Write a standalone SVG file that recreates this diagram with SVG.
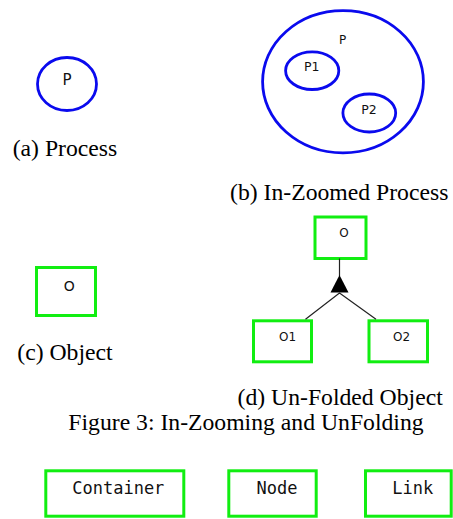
<svg xmlns="http://www.w3.org/2000/svg" width="453" height="519" viewBox="0 0 453 519">
<style>
.proc{fill:none;stroke:#0a0aee;stroke-width:2.8}
.obj{fill:none;stroke:#11ee11;stroke-width:3}
.lbl{font-family:"DejaVu Sans",sans-serif;fill:#111;text-anchor:middle}
.mono{font-family:"DejaVu Sans Mono",monospace;font-size:17px;fill:#111;text-anchor:middle}
.cap{font-family:"Liberation Serif","Times New Roman",serif;font-size:23.7px;fill:#000}
.conn{stroke:#222;stroke-width:1.2;fill:none}
</style>
<rect width="453" height="519" fill="#fff"/>
<g id="proc-a">
<ellipse class="proc" cx="67" cy="84" rx="29.5" ry="26.5"/>
<text class="lbl" x="67" y="84.5" font-size="15">P</text>
</g>
<g id="proc-b">
<ellipse class="proc" cx="343" cy="81.7" rx="80.4" ry="71.1"/>
<text class="lbl" x="342.5" y="44.3" font-size="12">P</text>
</g>
<g id="proc-p1">
<ellipse class="proc" cx="312.2" cy="70.7" rx="26.6" ry="18.8"/>
<text class="lbl" x="311.7" y="71.4" font-size="12.5">P1</text>
</g>
<g id="proc-p2">
<ellipse class="proc" cx="369.3" cy="113" rx="26.4" ry="19"/>
<text class="lbl" x="369" y="114" font-size="12.5">P2</text>
</g>
<g id="obj-c">
<rect class="obj" x="36.5" y="267.5" width="59" height="48"/>
<text class="lbl" x="69.3" y="291" font-size="14">O</text>
</g>
<g id="obj-d">
<rect class="obj" x="315" y="217" width="51" height="41.5"/>
<text class="lbl" x="344" y="236.8" font-size="12">O</text>
</g>
<g id="obj-o1">
<rect class="obj" x="253.5" y="320.8" width="58" height="41"/>
<text class="lbl" x="287.5" y="341" font-size="12">O1</text>
</g>
<g id="obj-o2">
<rect class="obj" x="369" y="320.8" width="58.5" height="41"/>
<text class="lbl" x="401.5" y="341" font-size="12">O2</text>
</g>
<g id="connectors">
<line class="conn" x1="339.5" y1="258.5" x2="339.5" y2="276"/>
<polygon points="339.5,275 330.5,292.5 348.5,292.5" fill="#000"/>
<polyline class="conn" points="305.5,319.3 339.5,293 376,319.3"/>
</g>
<g id="captions">
<text class="cap" x="12.7" y="156">(a) Process</text>
<text class="cap" x="230" y="200">(b) In-Zoomed Process</text>
<text class="cap" x="17.3" y="360">(c) Object</text>
<text class="cap" x="237.5" y="405">(d) Un-Folded Object</text>
<text class="cap" x="68.3" y="430">Figure 3: In-Zooming and UnFolding</text>
</g>
<g id="container">
<rect class="obj" x="45.8" y="470.8" width="138" height="45.4"/>
<text class="mono" x="118.3" y="493.8">Container</text>
</g>
<g id="node">
<rect class="obj" x="228.8" y="470.8" width="87.4" height="45.4"/>
<text class="mono" x="277" y="493.8">Node</text>
</g>
<g id="link">
<rect class="obj" x="365.5" y="470.8" width="85.7" height="45.4"/>
<text class="mono" x="412.8" y="493.8">Link</text>
</g>
</svg>
